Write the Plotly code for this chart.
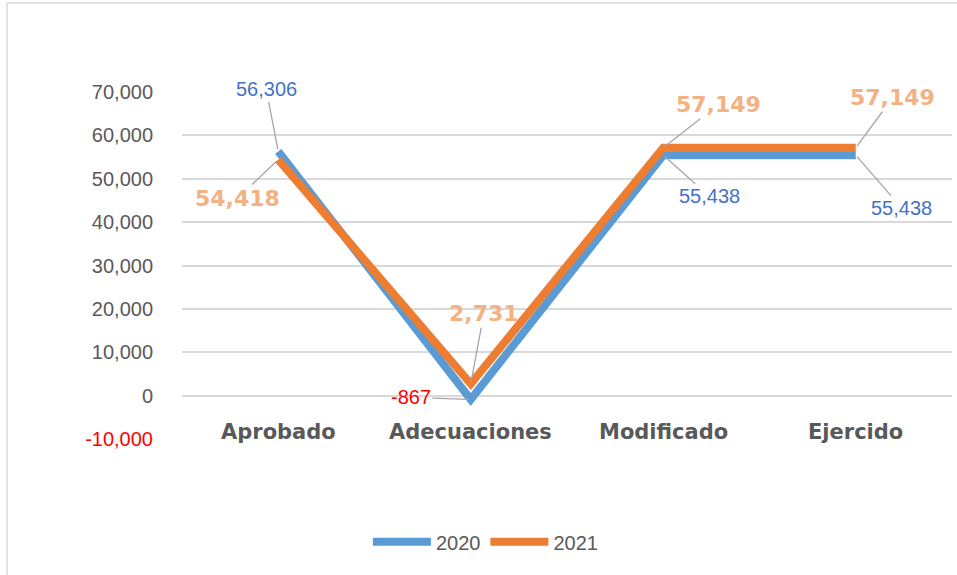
import plotly.graph_objects as go

categories = ["Aprobado", "Adecuaciones", "Modificado", "Ejercido"]
series_names = ["2020", "2021"]
values_2020 = [56306, -867, 55438, 55438]
values_2021 = [54418, 2731, 57149, 57149]
tick_values = [-10000, 0, 10000, 20000, 30000, 40000, 50000, 60000, 70000]

BLUE = "#5B9BD5"
ORANGE = "#ED7D31"
GRID = "#D9D9D9"
TXT = "#595959"

fig = go.Figure()
for name, vals, col in [(series_names[0], values_2020, BLUE), (series_names[1], values_2021, ORANGE)]:
    fig.add_trace(go.Scatter(x=categories, y=vals, mode="lines", name=name,
                             line=dict(color=col, width=8), hoverinfo="skip"))

def fmt(v):
    return f"{v:,}"

# label offsets (pixels) relative to the point: (ax, ay)
off_2020 = [(-12, -62), (-60, -2), (46, 41), (46, 53)]
off_2021 = [(-41, 39), (13, -70), (55, -43), (37, -50)]

annotations = []
for i, c in enumerate(categories):
    v = values_2020[i]
    ax, ay = off_2020[i]
    col = "#FF0000" if v < 0 else "#4472C4"
    annotations.append(dict(x=c, y=v, xref="x", yref="y", text=fmt(v), showarrow=True,
                            arrowhead=0, arrowwidth=1.3, arrowcolor="#A6A6A6", ax=ax, ay=ay,
                            standoff=2,
                            font=dict(family="Liberation Sans", size=20, color=col)))
    v = values_2021[i]
    ax, ay = off_2021[i]
    annotations.append(dict(x=c, y=v, xref="x", yref="y", text="<b>" + fmt(v) + "</b>", showarrow=True,
                            arrowhead=0, arrowwidth=1.3, arrowcolor="#A6A6A6", ax=ax, ay=ay,
                            standoff=2,
                            font=dict(family="DejaVu Sans", size=22, color="#F4B183")))
for c in categories:
    annotations.append(dict(x=c, y=-8500, xref="x", yref="y", text="<b>" + c + "</b>",
                            showarrow=False, yanchor="middle",
                            font=dict(family="DejaVu Sans", size=21, color=TXT)))

tick_text = [("<span style='color:#FF0000'>" + fmt(t) + "</span>") if t < 0 else fmt(t) for t in tick_values]

fig.update_layout(
    width=957, height=575,
    margin=dict(l=182, r=5, t=92, b=136),
    paper_bgcolor="white", plot_bgcolor="white",
    showlegend=True,
    legend=dict(orientation="h", x=0.394, xanchor="center", y=-0.24, yanchor="top",
                itemwidth=58,
                font=dict(family="Liberation Sans", size=20, color=TXT)),
    xaxis=dict(type="category", range=[-0.5, 3.5], showgrid=False, showticklabels=False,
               zeroline=False, showline=False, ticks=""),
    yaxis=dict(range=[-10000, 70000], tickvals=tick_values, ticktext=tick_text,
               showgrid=True, gridcolor=GRID, gridwidth=1.5, zeroline=False,
               ticklabelstandoff=28,
               tickfont=dict(family="Liberation Sans", size=20, color=TXT)),
    annotations=annotations,
    shapes=[
        dict(type="line", xref="paper", yref="paper", x0=(7 - 182) / 770, x1=(957 - 182) / 770,
             y0=(439 - 3) / 347, y1=(439 - 3) / 347, line=dict(color="#D9D9D9", width=1.5)),
        dict(type="line", xref="paper", yref="paper", x0=(7 - 182) / 770, x1=(7 - 182) / 770,
             y0=(439 - 3) / 347, y1=(439 - 575) / 347, line=dict(color="#D9D9D9", width=1.5)),
    ],
)

fig.write_html("out.html", config={"displayModeBar": False},
               post_script="document.body.style.margin='0';")
